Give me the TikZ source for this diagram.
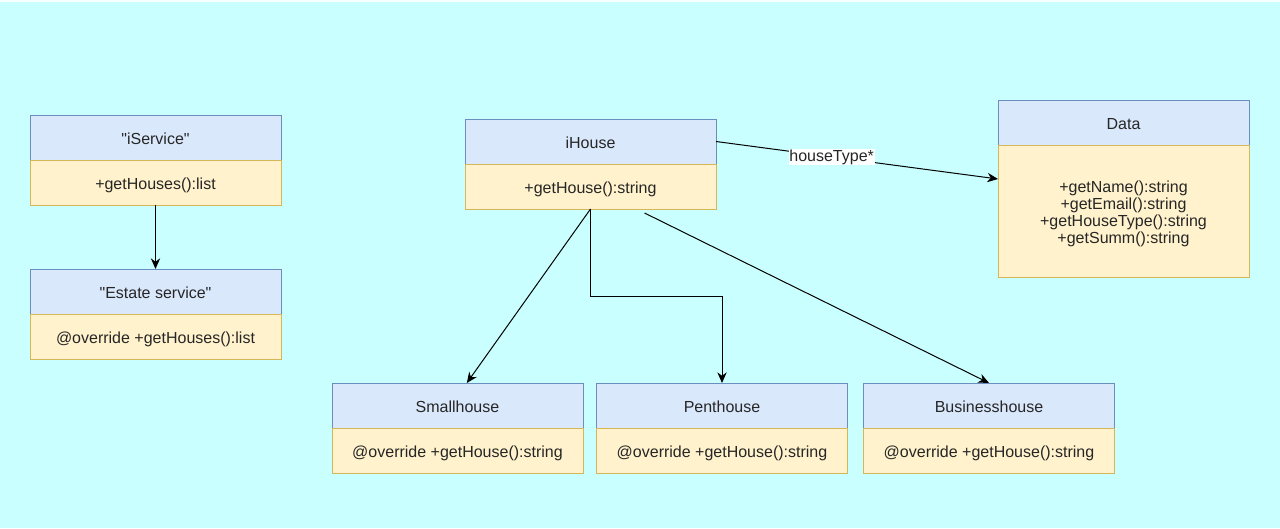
\documentclass[tikz,border=0pt]{standalone}
\usepackage{fontspec}
\setmainfont{Liberation Sans}
\newfontfamily\plainsans{Liberation Sans}
\usetikzlibrary{positioning,arrows.meta}
\definecolor{bgcyan}{RGB}{202,255,255}
\definecolor{headfill}{RGB}{218,232,252}
\definecolor{headline}{RGB}{108,142,191}
\definecolor{bodyfill}{RGB}{255,242,204}
\definecolor{bodyline}{RGB}{214,182,86}
\newcommand{\qt}{{\plainsans"}}
\tikzset{
  head/.style={draw=headline,fill=headfill,minimum width=188.25pt,minimum height=33.75pt,inner sep=0pt,outer sep=0pt,text height=12pt,text depth=2pt},
  ops/.style={draw=bodyline,fill=bodyfill,minimum width=188.25pt,minimum height=33.75pt,inner sep=0pt,outer sep=0pt,text height=12.5pt,text depth=2.5pt},
  link/.style={-{Stealth[length=8pt,width=7pt]},line width=0.75pt}
}
\begin{document}
\begin{tikzpicture}[x=0.75pt,y=-0.75pt,font=\fontsize{12}{12.9}\selectfont,text=black!85]
\fill[bgcyan] (0,0) rectangle (1280,528);
\fill[white!85!bgcyan] (0,0) rectangle (1280,2);
\useasboundingbox (0,0) rectangle (1280,528);

% service side
\node[head] (iService) at (155.5,137.5) {\qt iService\qt};
\node[ops,below=0pt of iService] (iServiceOps) {+getHouses():list};
\node[head] (estate) at (155.5,291.5) {\qt Estate service\qt};
\node[ops,below=0pt of estate] (estateOps) {@override +getHouses():list};

% houses
\node[head] (iHouse) at (590.5,141.5) {iHouse};
\node[ops,below=0pt of iHouse] (iHouseOps) {+getHouse():string};
\node[head] (data) at (1123.5,122.5) {Data};
\node[ops,below=0pt of data,minimum height=99pt,text height=,text depth=,align=center] (dataOps) {\rule{0pt}{13pt}+getName():string\\+getEmail():string\\+getHouseType():string\\+getSumm():string};

\node[head] (small) at (457.5,405.5) {Smallhouse};
\node[ops,below=0pt of small] (smallOps) {@override +getHouse():string};
\node[head] (pent) at (722,405.5) {Penthouse};
\node[ops,below=0pt of pent] (pentOps) {@override +getHouse():string};
\node[head] (business) at (989,405.5) {Businesshouse};
\node[ops,below=0pt of business] (businessOps) {@override +getHouse():string};

\draw[link] (iServiceOps) -- (estate);
\draw[link] (iHouse.east) -- node[pos=0.41,fill=white,inner sep=0.5pt] {houseType*} ([yshift=24pt]dataOps.west);
\draw[link] (iHouseOps.south) -- ([xshift=7pt]small.north);
\draw[link] (iHouseOps.south) -- ++(0,87) -| (pent.north);
\draw[link] ([xshift=40.5pt,yshift=-3pt]iHouseOps.south) -- (business.north);
\end{tikzpicture}
\end{document}
